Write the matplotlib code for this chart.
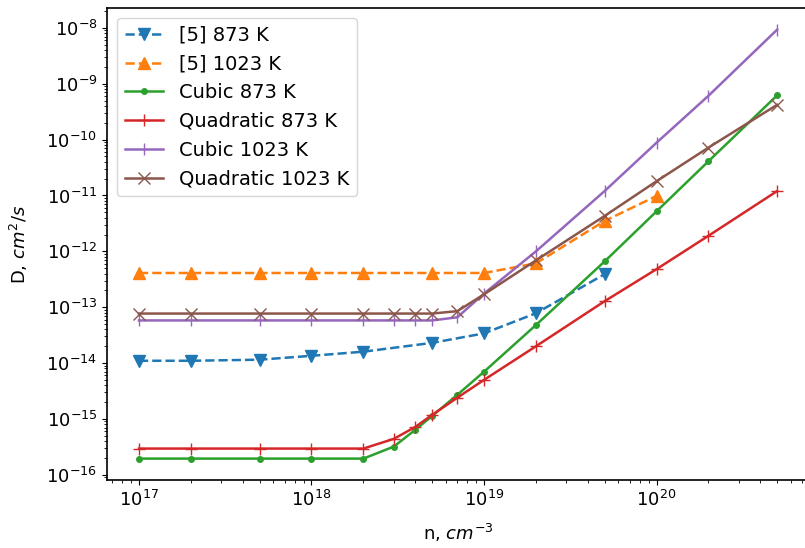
import numpy as np
import matplotlib
matplotlib.use("Agg")
import matplotlib.pyplot as plt

plt.rcParams['font.size'] = 13
plt.rcParams['axes.linewidth'] = 1.2

# concentrations, cm^-3
n_ref = [1e17, 2e17, 5e17, 1e18, 2e18, 5e18, 1e19, 2e19, 5e19, 1e20]
n_calc = [1e17, 2e17, 5e17, 1e18, 2e18, 3e18, 4e18, 5e18, 7e18,
          1e19, 2e19, 5e19, 1e20, 2e20, 5e20]

# [5] reference data
ref_873 = [1.1e-14, 1.1e-14, 1.15e-14, 1.35e-14, 1.6e-14, 2.3e-14, 3.4e-14, 7.8e-14, 3.9e-13]
ref_1023 = [4.1e-13, 4.1e-13, 4.1e-13, 4.1e-13, 4.1e-13, 4.1e-13, 4.1e-13, 6.1e-13, 3.5e-12, 9.8e-12]

cubic_873 = [1.95e-16, 1.95e-16, 1.95e-16, 1.95e-16, 1.95e-16, 3.2e-16, 6.4e-16, 1.13e-15,
             2.7e-15, 7.0e-15, 4.8e-14, 6.6e-13, 5.2e-12, 4.1e-11, 6.2e-10]
quad_873 = [2.95e-16, 2.95e-16, 2.95e-16, 2.95e-16, 2.95e-16, 4.4e-16, 7.2e-16, 1.18e-15,
            2.4e-15, 5.0e-15, 2.0e-14, 1.28e-13, 4.8e-13, 1.9e-12, 1.2e-11]
cubic_1023 = [5.8e-14, 5.8e-14, 5.8e-14, 5.8e-14, 5.8e-14, 5.8e-14, 5.8e-14, 5.8e-14,
              6.6e-14, 1.75e-13, 1.0e-12, 1.2e-11, 8.8e-11, 6.1e-10, 9.3e-9]
quad_1023 = [7.7e-14, 7.7e-14, 7.7e-14, 7.7e-14, 7.7e-14, 7.7e-14, 7.7e-14, 7.7e-14,
             8.5e-14, 1.7e-13, 6.9e-13, 4.3e-12, 1.8e-11, 7.2e-11, 4.2e-10]

fig = plt.figure(figsize=(8.05, 5.48), dpi=100)
ax = fig.add_axes([0.133, 0.124, 0.872, 0.861])

lw = 1.8
ax.plot(n_ref[:len(ref_873)], ref_873, 'v--', color='tab:blue', lw=lw, ms=9, label='[5] 873 K')
ax.plot(n_ref, ref_1023, '^--', color='tab:orange', lw=lw, ms=9, label='[5] 1023 K')
ax.plot(n_calc, cubic_873, '.-', color='tab:green', lw=lw, ms=8, label='Cubic 873 K')
ax.plot(n_calc, quad_873, '+-', color='tab:red', lw=lw, ms=8, label='Quadratic 873 K')
ax.plot(n_calc, cubic_1023, '|-', color='tab:purple', lw=lw, ms=8, label='Cubic 1023 K')
ax.plot(n_calc, quad_1023, 'x-', color='tab:brown', lw=lw, ms=9, label='Quadratic 1023 K')

ax.set_xscale('log')
ax.set_yscale('log')
ax.set_xlabel('n, $cm^{-3}$', labelpad=9)
ax.set_ylabel('D, $cm^2/s$', labelpad=12)
ax.legend(loc='upper left', fontsize=14, labelspacing=0.5)

plt.savefig('out.png', dpi=100)
